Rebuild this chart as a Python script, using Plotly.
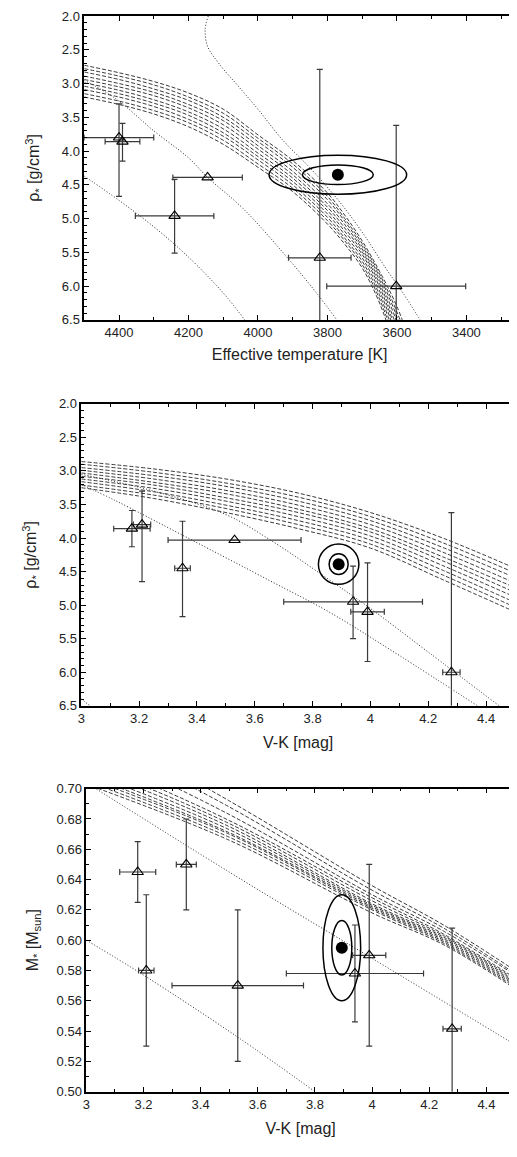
import plotly.graph_objects as go

# ---------------- Panel 1: Teff vs rho ----------------
p1_teff_nodes = [4500, 4400, 4300, 4200, 4100, 4000, 3900, 3800, 3750, 3700, 3650, 3600, 3550]
p1_band = [
    [3.20, 3.31, 3.45, 3.64, 3.90, 4.24, 4.60, 5.08, 5.38, 5.73, 6.25, 7.00, 7.90],
    [3.15, 3.26, 3.40, 3.58, 3.84, 4.19, 4.55, 5.03, 5.33, 5.68, 6.19, 6.92, 7.80],
    [3.09, 3.20, 3.34, 3.53, 3.78, 4.13, 4.50, 4.98, 5.29, 5.63, 6.13, 6.84, 7.70],
    [3.04, 3.15, 3.29, 3.47, 3.73, 4.08, 4.45, 4.93, 5.24, 5.58, 6.07, 6.76, 7.60],
    [2.99, 3.10, 3.24, 3.42, 3.67, 4.03, 4.40, 4.88, 5.19, 5.53, 6.01, 6.69, 7.50],
    [2.94, 3.05, 3.18, 3.36, 3.61, 3.97, 4.35, 4.83, 5.14, 5.49, 5.96, 6.61, 7.40],
    [2.89, 3.00, 3.13, 3.31, 3.55, 3.92, 4.30, 4.78, 5.09, 5.45, 5.91, 6.53, 7.30],
    [2.83, 2.94, 3.08, 3.25, 3.50, 3.86, 4.24, 4.72, 5.04, 5.41, 5.86, 6.45, 7.20],
    [2.78, 2.89, 3.02, 3.20, 3.44, 3.81, 4.19, 4.67, 5.00, 5.37, 5.82, 6.38, 7.10],
    [2.73, 2.84, 2.97, 3.14, 3.38, 3.76, 4.14, 4.62, 4.95, 5.33, 5.78, 6.30, 7.00],
]
p1_dot1_teff = [4143, 4152, 4145, 4110, 4060, 4000, 3930, 3850, 3770, 3700, 3630, 3580, 3533]
p1_dot1_rho = [2.00, 2.20, 2.45, 2.72, 3.02, 3.38, 3.83, 4.25, 4.72, 5.20, 5.75, 6.12, 6.50]
p1_dot2_teff = [4500, 4408, 4300, 4200, 4145, 4043, 3925, 3830, 3773]
p1_dot2_rho = [2.95, 3.23, 3.70, 4.10, 4.39, 4.85, 5.52, 6.11, 6.50]
p1_dot3_teff = [4500, 4400, 4300, 4200, 4100, 4038]
p1_dot3_rho = [4.37, 4.73, 5.12, 5.57, 6.10, 6.50]

p1_star_teff = [4400, 4390, 4145, 4240, 3822, 3602]
p1_star_rho = [3.80, 3.86, 4.39, 4.96, 5.58, 6.00]
p1_star_teff_err = [100, 50, 100, 113, 90, 200]
p1_star_rho_minus = [0.50, 0.27, 0.0, 0.54, 2.79, 2.38]
p1_star_rho_plus = [0.87, 0.29, 0.0, 0.55, 1.50, 1.00]

p1_target = [3770, 4.35]
p1_ell_outer = [198, 0.29]
p1_ell_inner = [102, 0.145]

# ---------------- Panel 2: V-K vs rho ----------------
p2_vk_nodes = [3.0, 3.25, 3.5, 3.75, 4.0, 4.25, 4.5]
p2_band = [
    [3.25, 3.41, 3.62, 3.86, 4.15, 4.62, 5.10],
    [3.21, 3.36, 3.56, 3.80, 4.09, 4.55, 5.03],
    [3.16, 3.31, 3.51, 3.74, 4.03, 4.48, 4.96],
    [3.12, 3.26, 3.45, 3.68, 3.97, 4.41, 4.88],
    [3.08, 3.21, 3.40, 3.62, 3.91, 4.34, 4.81],
    [3.03, 3.17, 3.34, 3.57, 3.86, 4.28, 4.74],
    [2.99, 3.12, 3.29, 3.51, 3.80, 4.21, 4.67],
    [2.95, 3.07, 3.23, 3.45, 3.74, 4.14, 4.59],
    [2.90, 3.02, 3.18, 3.39, 3.68, 4.07, 4.52],
    [2.86, 2.97, 3.12, 3.33, 3.62, 4.00, 4.45],
]
p2_dot1_vk = [3.0, 3.25, 3.5, 3.654, 3.85, 4.0, 4.2, 4.445]
p2_dot1_rho = [3.05, 3.30, 3.65, 4.03, 4.60, 5.05, 5.70, 6.50]
p2_dot2_vk = [3.0, 3.117, 3.369, 3.654, 3.86, 4.1, 4.37]
p2_dot2_rho = [3.20, 3.44, 4.00, 4.64, 5.11, 5.75, 6.50]
p2_dot3_vk = [3.0, 3.03]
p2_dot3_rho = [6.40, 6.50]

p2_star_vk = [3.175, 3.21, 3.35, 3.53, 3.94, 3.99, 4.28]
p2_star_rho = [3.86, 3.80, 4.45, 4.03, 4.95, 5.10, 6.00]
p2_star_vk_err = [0.063, 0.03, 0.027, 0.23, 0.24, 0.058, 0.03]
p2_star_rho_minus = [0.27, 0.50, 0.70, 0.0, 0.53, 0.73, 2.38]
p2_star_rho_plus = [0.27, 0.85, 0.72, 0.0, 0.55, 0.74, 1.00]

p2_target = [3.89, 4.39]
p2_ell_outer = [0.07, 0.30]
p2_ell_inner = [0.033, 0.155]

# ---------------- Panel 3: V-K vs mass ----------------
p3_vk_nodes = [3.0, 3.5, 4.0, 4.25, 4.5]
p3_band = [
    [0.703, 0.666, 0.618, 0.597, 0.568],
    [0.705, 0.668, 0.620, 0.598, 0.569],
    [0.707, 0.670, 0.621, 0.599, 0.570],
    [0.709, 0.671, 0.622, 0.600, 0.571],
    [0.711, 0.673, 0.623, 0.601, 0.572],
    [0.714, 0.675, 0.624, 0.602, 0.573],
    [0.717, 0.677, 0.626, 0.603, 0.574],
    [0.721, 0.679, 0.628, 0.604, 0.575],
    [0.729, 0.683, 0.630, 0.606, 0.577],
    [0.737, 0.688, 0.633, 0.608, 0.578],
    [0.745, 0.692, 0.636, 0.610, 0.580],
]
p3_dot1_vk = [3.0, 3.5, 4.0, 4.5]
p3_dot1_m = [0.704, 0.645, 0.588, 0.531]
p3_dot2_vk = [3.0, 3.2, 3.53, 3.8]
p3_dot2_m = [0.600, 0.577, 0.536, 0.500]

p3_star_vk = [3.18, 3.35, 3.21, 3.53, 3.94, 3.99, 4.28]
p3_star_m = [0.645, 0.650, 0.580, 0.570, 0.578, 0.590, 0.5415]
p3_star_vk_err = [0.063, 0.035, 0.027, 0.23, 0.24, 0.058, 0.032]
p3_star_m_minus = [0.02, 0.03, 0.05, 0.05, 0.032, 0.06, 0.05]
p3_star_m_plus = [0.02, 0.03, 0.05, 0.05, 0.032, 0.06, 0.0665]

p3_target = [3.894, 0.595]
p3_ell_outer = [0.066, 0.035]
p3_ell_inner = [0.035, 0.018]

# ---------------- styles ----------------
FONT = "Liberation Sans, Arial, Helvetica, sans-serif"
BAND_STYLE = dict(color="#222222", width=0.9, dash="4px,2px")
DOT_STYLE = dict(color="#222222", width=1.0, dash="1px,2px")
ERR_COLOR = "#3a3a3a"

fig = go.Figure()
shapes = []


def add_panel(xa, ya, xnodes, band, dots, sx, sy, sxe, sym, syp, target, ell_out, ell_in):
    for line in band:
        fig.add_trace(go.Scatter(x=xnodes, y=line, mode="lines", line=BAND_STYLE,
                                 line_shape="spline", xaxis=xa, yaxis=ya,
                                 showlegend=False, hoverinfo="skip"))
    for dx, dy in dots:
        fig.add_trace(go.Scatter(x=dx, y=dy, mode="lines", line=DOT_STYLE,
                                 line_shape="spline", xaxis=xa, yaxis=ya,
                                 showlegend=False, hoverinfo="skip"))
    fig.add_trace(go.Scatter(
        x=sx, y=sy, mode="markers", xaxis=xa, yaxis=ya, showlegend=False,
        marker=dict(symbol="triangle-up-open", size=10, color="black",
                    line=dict(width=1.1, color="black")),
        error_x=dict(type="data", array=sxe, symmetric=True, color=ERR_COLOR,
                     thickness=1.2, width=3),
        error_y=dict(type="data", array=syp, arrayminus=sym, symmetric=False,
                     color=ERR_COLOR, thickness=1.2, width=3),
    ))
    fig.add_trace(go.Scatter(x=[target[0]], y=[target[1]], mode="markers",
                             xaxis=xa, yaxis=ya, showlegend=False,
                             marker=dict(symbol="circle", size=12, color="black")))
    for ax_, ay_ in (ell_out, ell_in):
        shapes.append(dict(type="circle", xref=xa, yref=ya,
                           x0=target[0] - ax_, x1=target[0] + ax_,
                           y0=target[1] - ay_, y1=target[1] + ay_,
                           line=dict(color="black", width=1.5)))


add_panel("x", "y", p1_teff_nodes, p1_band,
          [(p1_dot1_teff, p1_dot1_rho), (p1_dot2_teff, p1_dot2_rho), (p1_dot3_teff, p1_dot3_rho)],
          p1_star_teff, p1_star_rho, p1_star_teff_err, p1_star_rho_minus, p1_star_rho_plus,
          p1_target, p1_ell_outer, p1_ell_inner)
add_panel("x2", "y2", p2_vk_nodes, p2_band,
          [(p2_dot1_vk, p2_dot1_rho), (p2_dot2_vk, p2_dot2_rho), (p2_dot3_vk, p2_dot3_rho)],
          p2_star_vk, p2_star_rho, p2_star_vk_err, p2_star_rho_minus, p2_star_rho_plus,
          p2_target, p2_ell_outer, p2_ell_inner)
add_panel("x3", "y3", p3_vk_nodes, p3_band,
          [(p3_dot1_vk, p3_dot1_m), (p3_dot2_vk, p3_dot2_m)],
          p3_star_vk, p3_star_m, p3_star_vk_err, p3_star_m_minus, p3_star_m_plus,
          p3_target, p3_ell_outer, p3_ell_inner)

# The page body has an 8px margin, so the figure is sized/offset to compensate.
OFF = 8
W, H = 517 - OFF, 1157 - 2 * OFF


def dom_x(a, b):
    return [(a - OFF) / W, (b - OFF) / W]


def dom_y(top, bottom):
    return [1 - (bottom - OFF) / H, 1 - (top - OFF) / H]


def axis_common():
    return dict(showline=True, linecolor="black", linewidth=1.5, mirror="allticks",
                ticks="inside", ticklen=5, tickwidth=1, tickcolor="black",
                showgrid=False, zeroline=False,
                tickfont=dict(family=FONT, size=13, color="#222"),
                title_font=dict(family=FONT, size=16, color="#222"))


def minor(d):
    return dict(dtick=d, ticks="inside", ticklen=3, tickwidth=1, tickcolor="black", showgrid=False)


x1 = axis_common()
x1.update(domain=dom_x(81, 516), anchor="y", range=[4500, 3260], tick0=3400, dtick=200,
          minor=minor(100), title=dict(text="Effective temperature [K]", standoff=10))
y1 = axis_common()
y1.update(domain=dom_y(9, 317), anchor="x", range=[6.5, 2.0], tick0=2.0, dtick=0.5,
          tickformat=".1f", minor=minor(0.1),
          title=dict(text="ρ<sub>*</sub> [g/cm<sup>3</sup>]", standoff=18))

x2 = axis_common()
x2.update(domain=dom_x(78, 516), anchor="y2", range=[3.0, 4.5], tick0=3.0, dtick=0.2,
          minor=minor(0.1), title=dict(text="V-K [mag]", standoff=12))
y2 = axis_common()
y2.update(domain=dom_y(402, 708), anchor="x2", range=[6.5, 2.0], tick0=2.0, dtick=0.5,
          tickformat=".1f", minor=minor(0.1),
          title=dict(text="ρ<sub>*</sub> [g/cm<sup>3</sup>]", standoff=18))

x3 = axis_common()
x3.update(domain=dom_x(83, 516), anchor="y3", range=[3.0, 4.5], tick0=3.0, dtick=0.2,
          minor=minor(0.1), title=dict(text="V-K [mag]", standoff=12))
y3 = axis_common()
y3.update(domain=dom_y(792, 1099), anchor="x3", range=[0.50, 0.70], tick0=0.5, dtick=0.02,
          tickformat=".2f", minor=minor(0.01),
          title=dict(text="M<sub>*</sub> [M<sub>sun</sub>]", standoff=14))

fig.update_layout(
    width=W, height=H, margin=dict(l=0, r=0, t=0, b=0),
    paper_bgcolor="white", plot_bgcolor="white",
    font=dict(family=FONT, size=13, color="#222"),
    xaxis=x1, yaxis=y1, xaxis2=x2, yaxis2=y2, xaxis3=x3, yaxis3=y3,
    shapes=shapes, showlegend=False,
)

fig.write_html("out.html")
